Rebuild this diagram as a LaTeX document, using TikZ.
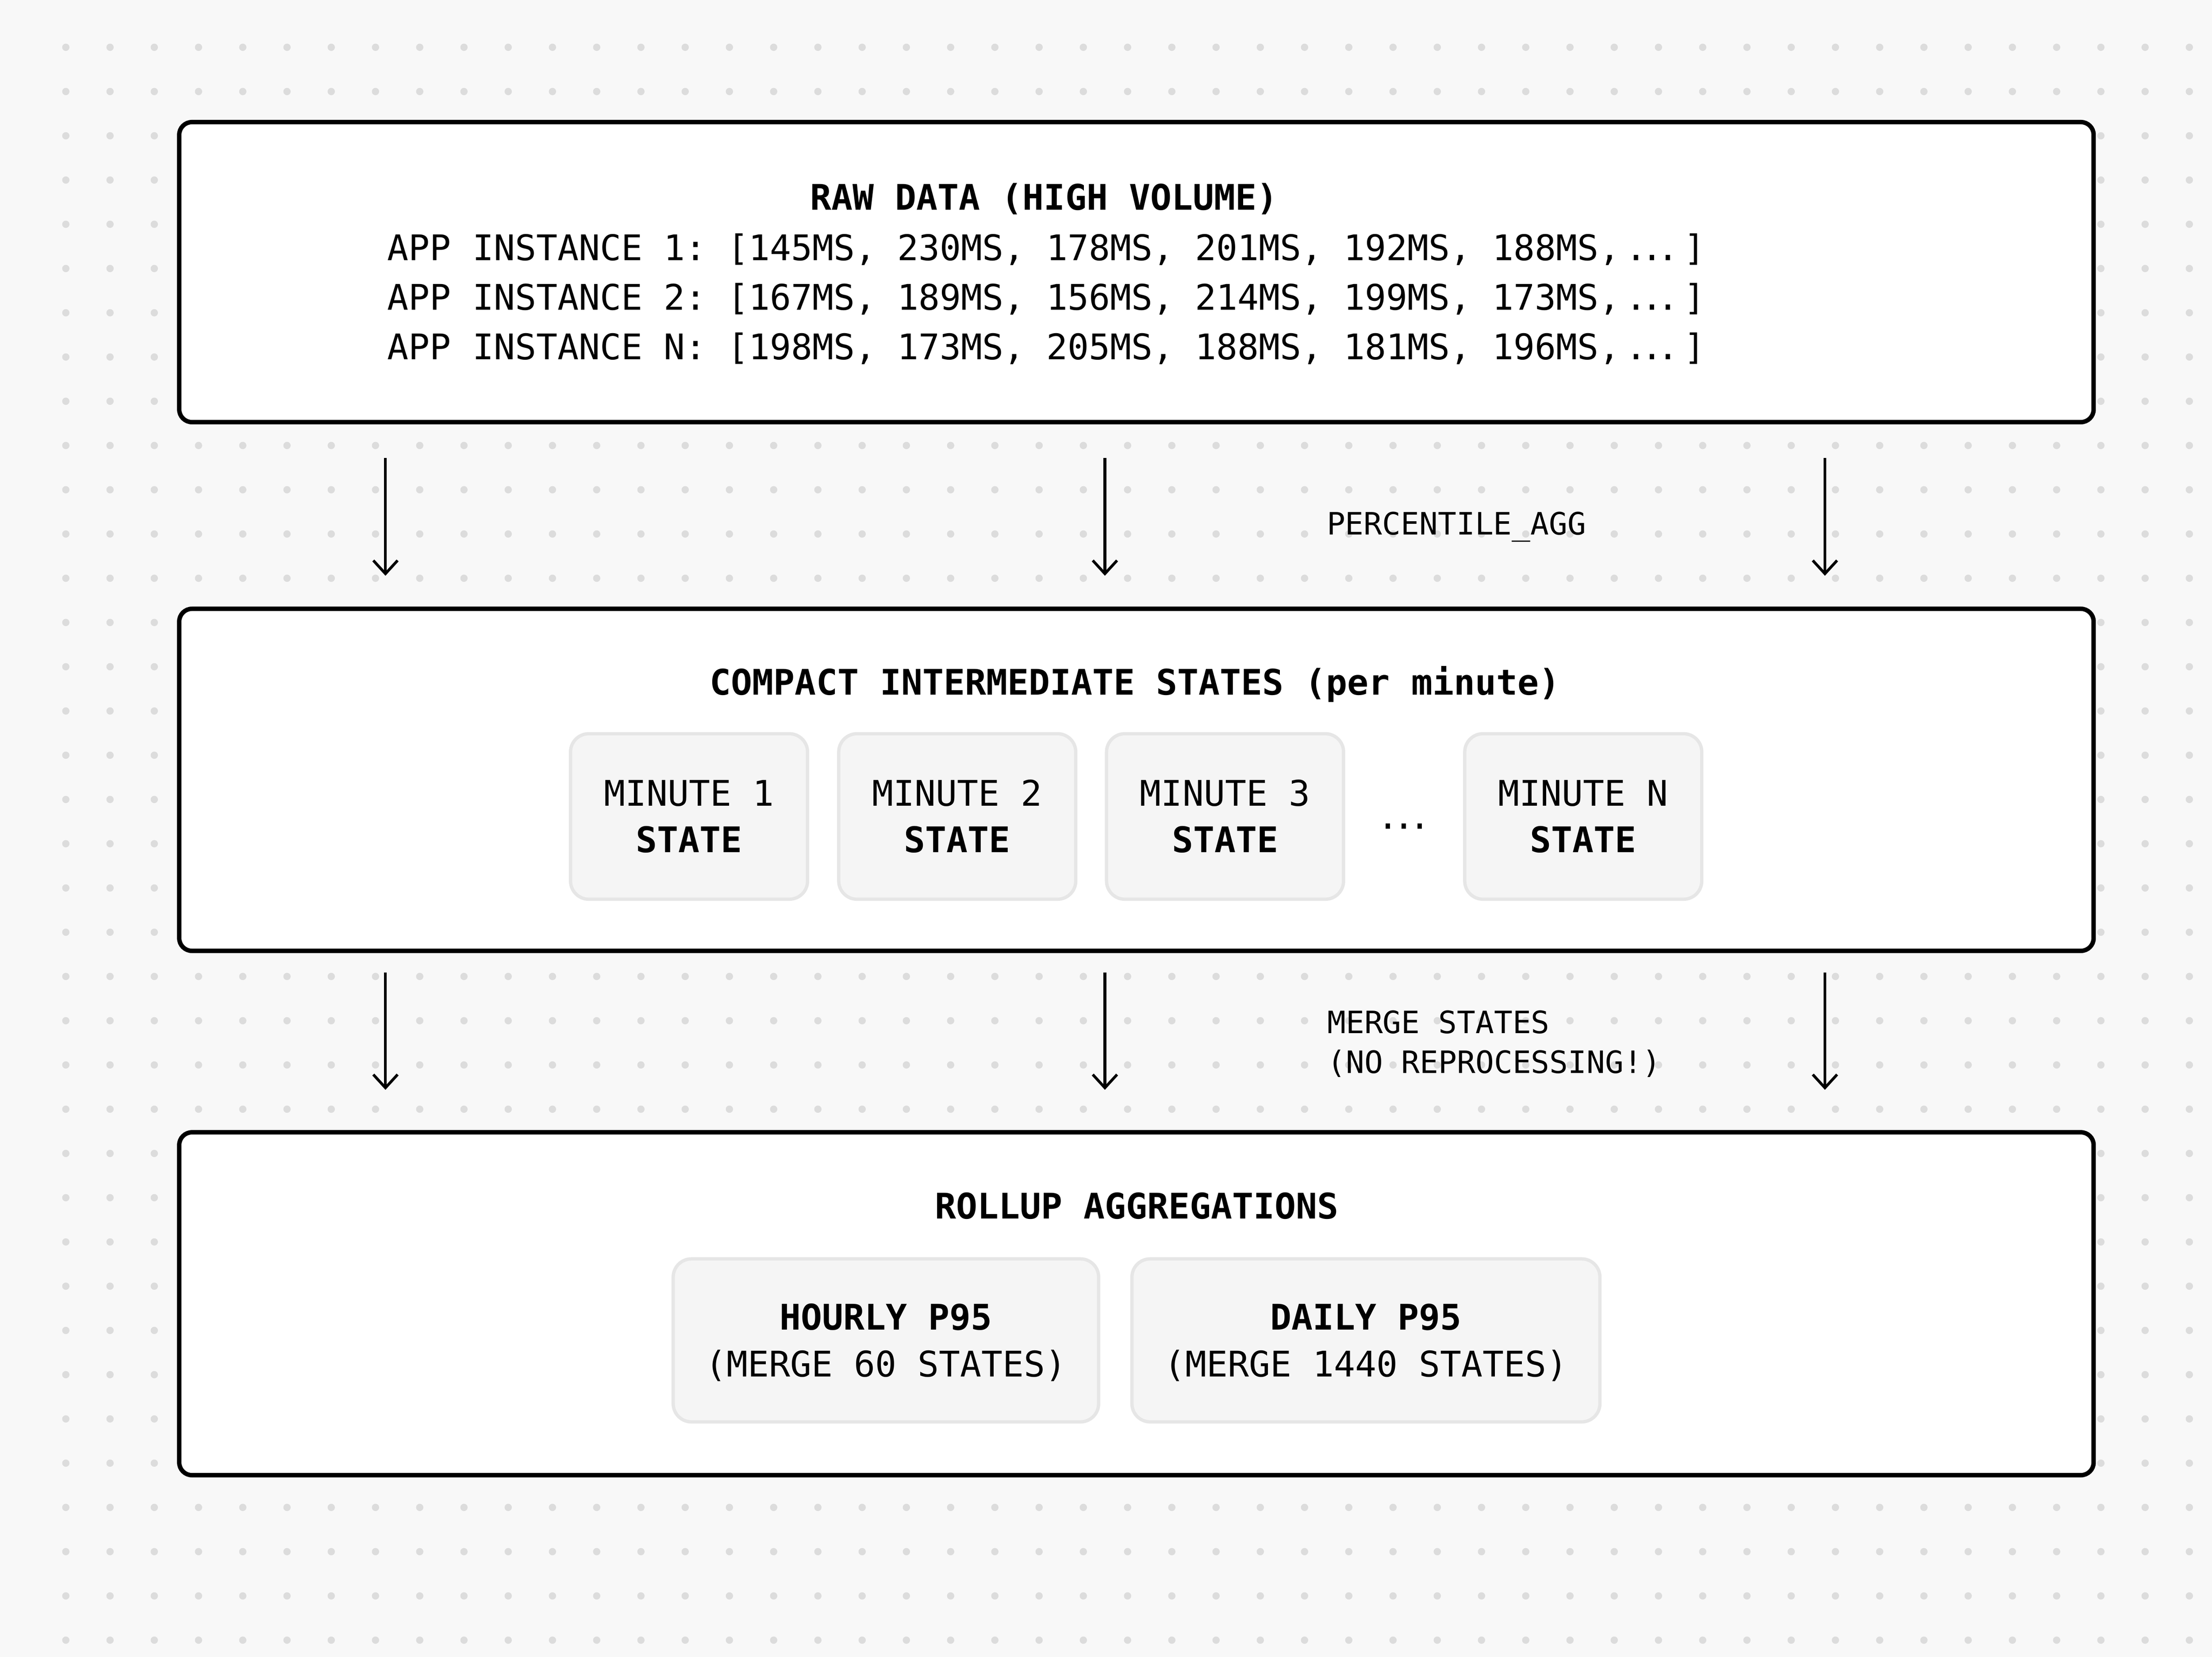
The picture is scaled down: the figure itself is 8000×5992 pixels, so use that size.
\documentclass[tikz,border=0pt]{standalone}
\usepackage{fontspec}
\setmainfont{DejaVu Sans Mono}
\usetikzlibrary{arrows.meta}
\definecolor{bgc}{HTML}{F8F8F8}
\definecolor{dotc}{HTML}{DCDCDC}
\definecolor{cellfill}{HTML}{F5F5F5}
\definecolor{celledge}{HTML}{E6E6E6}
\newcommand{\threedots}{\makebox[1.806em][c]{.\kern-0.152em.\kern-0.152em.}}
\frenchspacing
\begin{document}
\begin{tikzpicture}[x=0.005cm,y=-0.005cm,
  bigbox/.style={draw=black, line width=0.08cm, fill=white, rounded corners=0.23cm, inner sep=0, minimum width=34.65cm},
  cell/.style={draw=celledge, line width=0.06cm, fill=cellfill, rounded corners=0.33cm, inner sep=0},
  txt/.style={inner sep=0, anchor=base, font=\fontsize{18.18}{22}\selectfont},
  btxt/.style={inner sep=0, anchor=base, font=\fontsize{18.18}{22}\selectfont\bfseries},
  ltxt/.style={inner sep=0, anchor=base west, font=\fontsize{15.85}{20}\selectfont},
  flow/.style={line width=0.05cm, -{Straight Barb[length=0.24cm,width=0.44cm]}}]
\useasboundingbox (0,0) rectangle (8000,5992);
\fill[bgc] (0,0) rectangle (8000,5992);
\foreach \i in {0,...,48}{
  \foreach \j in {0,...,36}{
    \fill[dotc] (238+160*\i,171+160*\j) circle[radius=0.066cm];
  }
}
% main boxes
\node[bigbox, minimum height=5.43cm] (raw) at (4110,984) {};
\node[bigbox, minimum height=6.19cm] (mid) at (4110,2820) {};
\node[bigbox, minimum height=6.205cm] (roll) at (4110,4714.5) {};
% raw data text
\node[btxt] (rawt) at (3776,760) {RAW DATA (HIGH VOLUME)};
\node[txt, anchor=base west] (l1) at (1400,941) {APP INSTANCE 1: [145MS, 230MS, 178MS, 201MS, 192MS, 188MS,\threedots]};
\node[txt, anchor=base west] (l2) at (1400,1121) {APP INSTANCE 2: [167MS, 189MS, 156MS, 214MS, 199MS, 173MS,\threedots]};
\node[txt, anchor=base west] (l3) at (1400,1300) {APP INSTANCE N: [198MS, 173MS, 205MS, 188MS, 181MS, 196MS,\threedots]};
% arrows row 1
\coordinate (a1s) at (1394,1656); \coordinate (a1e) at (1394,2082);
\coordinate (a2s) at (3996,1656); \coordinate (a2e) at (3996,2082);
\coordinate (a3s) at (6600,1656); \coordinate (a3e) at (6600,2082);
\draw[flow] (a1s) -- (a1e);
\draw[flow] (a2s) -- (a2e);
\draw[flow] (a3s) -- (a3e);
\node[ltxt] (pagg) at (4797,1933) {PERCENTILE\_AGG};
% middle
\node[btxt] (midt) at (4105,2513) {COMPACT INTERMEDIATE STATES (per minute)};
\node[cell, minimum width=4.29cm, minimum height=2.995cm] (m1) at (2492,2952.5) {};
\node[cell, minimum width=4.29cm, minimum height=2.995cm] (m2) at (3462,2952.5) {};
\node[cell, minimum width=4.29cm, minimum height=2.995cm] (m3) at (4430.5,2952.5) {};
\node[cell, minimum width=4.29cm, minimum height=2.995cm] (m4) at (5726,2952.5) {};
\node[txt] (m1a) at (2492,2914) {MINUTE 1};
\node[btxt] (m1b) at (2492,3082) {STATE};
\node[txt] (m2a) at (3462,2914) {MINUTE 2};
\node[btxt] (m2b) at (3462,3082) {STATE};
\node[txt] (m3a) at (4430.5,2914) {MINUTE 3};
\node[btxt] (m3b) at (4430.5,3082) {STATE};
\node[txt] (mdots) at (5078,2998) {\threedots};
\node[txt] (m4a) at (5726,2914) {MINUTE N};
\node[btxt] (m4b) at (5726,3082) {STATE};
% arrows row 2
\coordinate (b1s) at (1394,3516); \coordinate (b1e) at (1394,3941);
\coordinate (b2s) at (3996,3516); \coordinate (b2e) at (3996,3941);
\coordinate (b3s) at (6600,3516); \coordinate (b3e) at (6600,3941);
\draw[flow] (b1s) -- (b1e);
\draw[flow] (b2s) -- (b2e);
\draw[flow] (b3s) -- (b3e);
\node[ltxt] (ms1) at (4799,3736) {MERGE STATES};
\node[ltxt] (ms2) at (4799,3881) {(NO REPROCESSING!)};
% rollup
\node[btxt] (rollt) at (4111,4407) {ROLLUP AGGREGATIONS};
\node[cell, minimum width=7.7cm, minimum height=2.95cm] (hr) at (3204,4847) {};
\node[cell, minimum width=8.47cm, minimum height=2.95cm] (dy) at (4940,4847) {};
\node[btxt] (hra) at (3204,4809) {HOURLY P95};
\node[txt] (hrb) at (3204,4978) {(MERGE 60 STATES)};
\node[btxt] (dya) at (4940,4809) {DAILY P95};
\node[txt] (dyb) at (4940,4978) {(MERGE 1440 STATES)};
\end{tikzpicture}
\end{document}
